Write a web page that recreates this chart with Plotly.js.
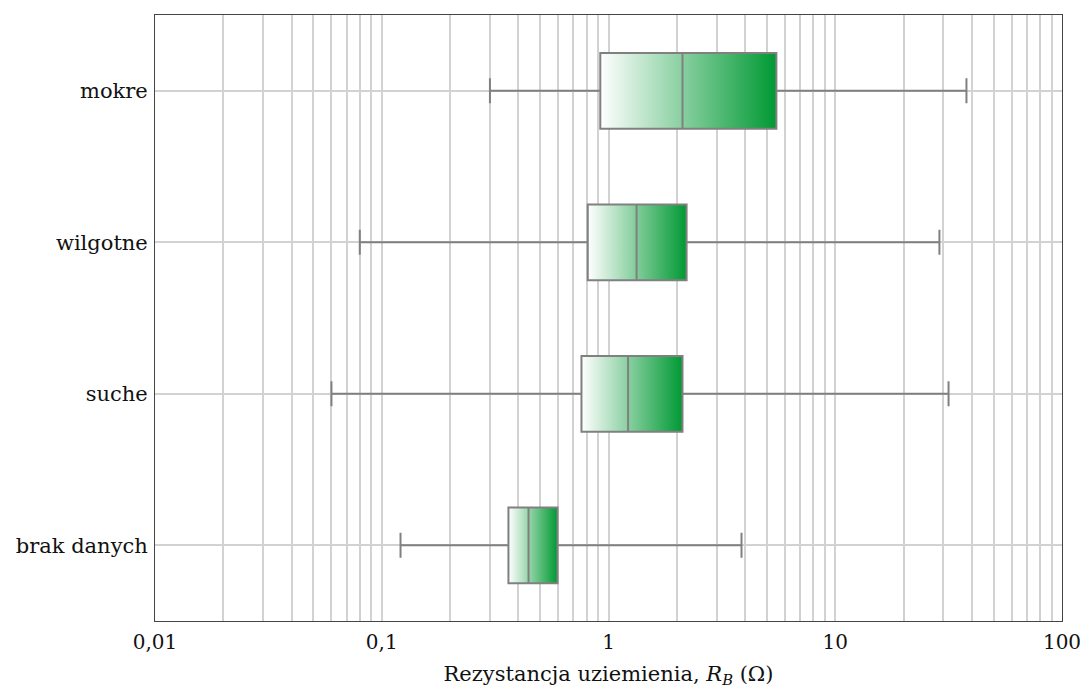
<!DOCTYPE html>
<html>
<head>
<meta charset="utf-8">
<script src="https://cdn.plot.ly/plotly-3.0.1.min.js"></script>
<style>
html, body { margin: 0; padding: 0; background: #fff; }
#chart { width: 1080px; height: 688px; }
</style>
</head>
<body>
<div id="chart"></div>
<script>
// Categories (top to bottom in the picture)
const categories = ['mokre', 'wilgotne', 'suche', 'brak danych'];
// Box statistics, resistance in ohms
const lowerFence = [0.30, 0.080, 0.060, 0.121];
const q1Values   = [0.92, 0.81, 0.76, 0.362];
const medians    = [2.12, 1.33, 1.22, 0.444];
const q3Values   = [5.5, 2.21, 2.12, 0.596];
const upperFence = [37.9, 28.8, 31.6, 3.86];
// Axis tick labels
const majorTicks = [0.01, 0.1, 1, 10, 100];
const majorTickText = ['0,01', '0,1', '1', '10', '100'];

// grid at every 1..9 x 10^k, labels only at decades
const gridVals = [];
const gridText = [];
for (let e = -2; e <= 2; e++) {
  for (let m = 1; m <= 9; m++) {
    const v = m * Math.pow(10, e);
    if (v > 100.0001) break;
    gridVals.push(v);
    const idx = majorTicks.findIndex(t => Math.abs(t - v) < 1e-9);
    gridText.push(idx >= 0 ? majorTickText[idx] : '');
  }
}

const FONT = 'DejaVu Serif, Liberation Serif, serif';
const FS = 21;

const trace = {
  type: 'box',
  orientation: 'h',
  y: categories,
  q1: q1Values,
  median: medians,
  q3: q3Values,
  lowerfence: lowerFence,
  upperfence: upperFence,
  boxpoints: false,
  fillcolor: '#7fcc99',
  line: { color: '#808080', width: 2 },
  whiskerwidth: 0.33,
  hoverinfo: 'skip',
  showlegend: false
};

const layout = {
  width: 1080,
  height: 688,
  margin: { l: 155, r: 18, t: 15, b: 67 },
  paper_bgcolor: '#ffffff',
  plot_bgcolor: '#ffffff',
  font: { family: FONT, size: FS, color: '#111111' },
  boxgap: 0.5,
  boxgroupgap: 0,
  xaxis: {
    type: 'log',
    range: [-2.00001, 2.00001],
    tickmode: 'array',
    tickvals: gridVals,
    ticktext: gridText,
    showgrid: true,
    gridcolor: '#d2d2d2',
    gridwidth: 2,
    zeroline: false,
    showline: true,
    mirror: true,
    linecolor: '#444444',
    linewidth: 1,
    ticks: '',
    ticklabelstandoff: 3,
    ticklabeloverflow: 'allow',
    tickfont: { family: FONT, size: FS - 1, color: '#111111' },
    title: {
      text: 'Rezystancja uziemienia, <i>R</i><sub><i>B</i></sub> (Ω)',
      font: { family: FONT, size: FS, color: '#111111' },
      standoff: 14
    }
  },
  yaxis: {
    type: 'category',
    categoryorder: 'array',
    categoryarray: categories.slice().reverse(),
    range: [-0.5, 3.5],
    showgrid: true,
    gridcolor: '#d2d2d2',
    gridwidth: 2,
    zeroline: false,
    showline: true,
    mirror: true,
    linecolor: '#444444',
    linewidth: 1,
    ticks: '',
    ticklabelstandoff: 2,
    tickfont: { family: FONT, size: FS, color: '#111111' }
  }
};

Plotly.newPlot('chart', [trace], layout, { staticPlot: true }).then(gd => {
  // apply white -> green gradient across each box (q1 to q3)
  const svg = gd.querySelector('.main-svg');
  const defs = svg.querySelector('defs');
  const xa = gd._fullLayout.xaxis;
  const NS = 'http://www.w3.org/2000/svg';
  const paths = gd.querySelectorAll('path.box');
  paths.forEach((p, i) => {
    const d = p.__data__;
    const q1 = d && d.q1 !== undefined ? d.q1 : q1Values[i];
    const q3 = d && d.q3 !== undefined ? d.q3 : q3Values[i];
    const g = document.createElementNS(NS, 'linearGradient');
    g.setAttribute('id', 'boxgrad' + i);
    g.setAttribute('gradientUnits', 'userSpaceOnUse');
    g.setAttribute('x1', xa.c2p(q1));
    g.setAttribute('x2', xa.c2p(q3));
    g.setAttribute('y1', 0);
    g.setAttribute('y2', 0);
    const s1 = document.createElementNS(NS, 'stop');
    s1.setAttribute('offset', '0');
    s1.setAttribute('stop-color', '#ffffff');
    const s2 = document.createElementNS(NS, 'stop');
    s2.setAttribute('offset', '1');
    s2.setAttribute('stop-color', '#009933');
    g.appendChild(s1);
    g.appendChild(s2);
    defs.appendChild(g);
    p.style.fill = 'url(#boxgrad' + i + ')';
    p.style.fillOpacity = 1;
  });
});
</script>
</body>
</html>
